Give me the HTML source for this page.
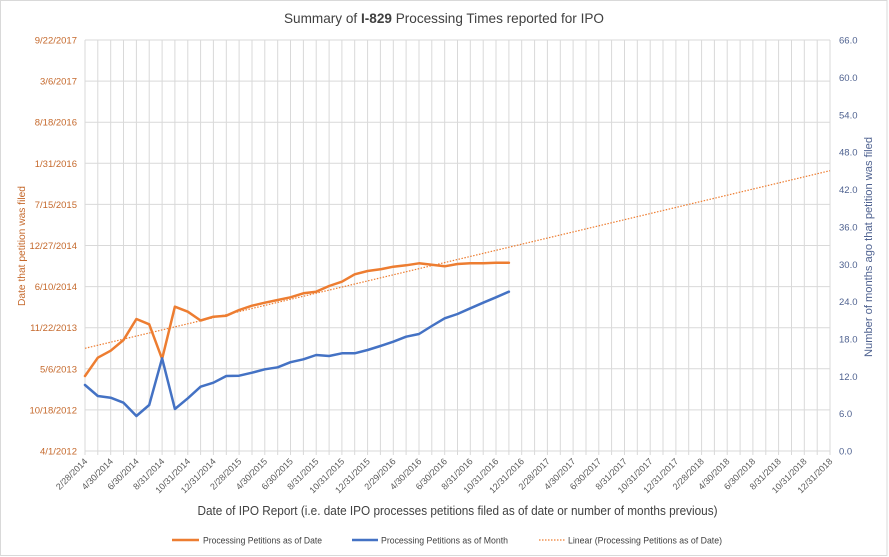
<!DOCTYPE html>
<html><head><meta charset="utf-8"><style>
html,body{margin:0;padding:0;background:#fff;}
svg{display:block;}
text{font-family:"Liberation Sans",sans-serif;}
</style></head><body>
<svg width="889" height="557" viewBox="0 0 889 557" xmlns="http://www.w3.org/2000/svg">
<rect x="0" y="0" width="889" height="557" fill="#fff"/>
<rect x="0.5" y="0.5" width="886.5" height="555" fill="none" stroke="#d9d9d9" stroke-width="1"/>
<text x="444" y="23" font-size="14" fill="#404040" text-anchor="middle" textLength="320" lengthAdjust="spacingAndGlyphs">Summary of <tspan font-weight="bold">I-829</tspan> Processing Times reported for IPO</text>
<g stroke="#d9d9d9" stroke-width="1">
<line x1="85" y1="40" x2="830" y2="40"/><line x1="85" y1="81.1" x2="830" y2="81.1"/><line x1="85" y1="122.2" x2="830" y2="122.2"/><line x1="85" y1="163.3" x2="830" y2="163.3"/><line x1="85" y1="204.4" x2="830" y2="204.4"/><line x1="85" y1="245.5" x2="830" y2="245.5"/><line x1="85" y1="286.6" x2="830" y2="286.6"/><line x1="85" y1="327.7" x2="830" y2="327.7"/><line x1="85" y1="368.8" x2="830" y2="368.8"/><line x1="85" y1="409.9" x2="830" y2="409.9"/><line x1="85" y1="451" x2="830" y2="451"/>
<line x1="85" y1="40" x2="85" y2="455"/><line x1="97.8" y1="40" x2="97.8" y2="455"/><line x1="110.7" y1="40" x2="110.7" y2="455"/><line x1="123.5" y1="40" x2="123.5" y2="455"/><line x1="136.4" y1="40" x2="136.4" y2="455"/><line x1="149.2" y1="40" x2="149.2" y2="455"/><line x1="162.1" y1="40" x2="162.1" y2="455"/><line x1="174.9" y1="40" x2="174.9" y2="455"/><line x1="187.8" y1="40" x2="187.8" y2="455"/><line x1="200.6" y1="40" x2="200.6" y2="455"/><line x1="213.4" y1="40" x2="213.4" y2="455"/><line x1="226.3" y1="40" x2="226.3" y2="455"/><line x1="239.1" y1="40" x2="239.1" y2="455"/><line x1="252" y1="40" x2="252" y2="455"/><line x1="264.8" y1="40" x2="264.8" y2="455"/><line x1="277.7" y1="40" x2="277.7" y2="455"/><line x1="290.5" y1="40" x2="290.5" y2="455"/><line x1="303.4" y1="40" x2="303.4" y2="455"/><line x1="316.2" y1="40" x2="316.2" y2="455"/><line x1="329.1" y1="40" x2="329.1" y2="455"/><line x1="341.9" y1="40" x2="341.9" y2="455"/><line x1="354.7" y1="40" x2="354.7" y2="455"/><line x1="367.6" y1="40" x2="367.6" y2="455"/><line x1="380.4" y1="40" x2="380.4" y2="455"/><line x1="393.3" y1="40" x2="393.3" y2="455"/><line x1="406.1" y1="40" x2="406.1" y2="455"/><line x1="419" y1="40" x2="419" y2="455"/><line x1="431.8" y1="40" x2="431.8" y2="455"/><line x1="444.7" y1="40" x2="444.7" y2="455"/><line x1="457.5" y1="40" x2="457.5" y2="455"/><line x1="470.3" y1="40" x2="470.3" y2="455"/><line x1="483.2" y1="40" x2="483.2" y2="455"/><line x1="496" y1="40" x2="496" y2="455"/><line x1="508.9" y1="40" x2="508.9" y2="455"/><line x1="521.7" y1="40" x2="521.7" y2="455"/><line x1="534.6" y1="40" x2="534.6" y2="455"/><line x1="547.4" y1="40" x2="547.4" y2="455"/><line x1="560.3" y1="40" x2="560.3" y2="455"/><line x1="573.1" y1="40" x2="573.1" y2="455"/><line x1="586" y1="40" x2="586" y2="455"/><line x1="598.8" y1="40" x2="598.8" y2="455"/><line x1="611.6" y1="40" x2="611.6" y2="455"/><line x1="624.5" y1="40" x2="624.5" y2="455"/><line x1="637.3" y1="40" x2="637.3" y2="455"/><line x1="650.2" y1="40" x2="650.2" y2="455"/><line x1="663" y1="40" x2="663" y2="455"/><line x1="675.9" y1="40" x2="675.9" y2="455"/><line x1="688.7" y1="40" x2="688.7" y2="455"/><line x1="701.6" y1="40" x2="701.6" y2="455"/><line x1="714.4" y1="40" x2="714.4" y2="455"/><line x1="727.2" y1="40" x2="727.2" y2="455"/><line x1="740.1" y1="40" x2="740.1" y2="455"/><line x1="752.9" y1="40" x2="752.9" y2="455"/><line x1="765.8" y1="40" x2="765.8" y2="455"/><line x1="778.6" y1="40" x2="778.6" y2="455"/><line x1="791.5" y1="40" x2="791.5" y2="455"/><line x1="804.3" y1="40" x2="804.3" y2="455"/><line x1="817.2" y1="40" x2="817.2" y2="455"/><line x1="830" y1="40" x2="830" y2="455"/>
</g>
<!-- left axis labels -->
<g font-size="9.5" fill="#c5692c" text-anchor="end">
<text x="77" y="43.5">9/22/2017</text><text x="77" y="84.6">3/6/2017</text><text x="77" y="125.7">8/18/2016</text><text x="77" y="166.8">1/31/2016</text><text x="77" y="207.9">7/15/2015</text><text x="77" y="249">12/27/2014</text><text x="77" y="290.1">6/10/2014</text><text x="77" y="331.2">11/22/2013</text><text x="77" y="372.3">5/6/2013</text><text x="77" y="413.4">10/18/2012</text><text x="77" y="454.5">4/1/2012</text>
</g>
<text transform="translate(25,246) rotate(-90)" font-size="10" fill="#c5692c" text-anchor="middle" textLength="120" lengthAdjust="spacingAndGlyphs">Date that petition was filed</text>
<!-- right axis labels -->
<g font-size="9.5" fill="#4f6290">
<text x="839" y="43.5">66.0</text><text x="839" y="80.9">60.0</text><text x="839" y="118.3">54.0</text><text x="839" y="155.6">48.0</text><text x="839" y="193">42.0</text><text x="839" y="230.4">36.0</text><text x="839" y="267.8">30.0</text><text x="839" y="305.1">24.0</text><text x="839" y="342.5">18.0</text><text x="839" y="379.9">12.0</text><text x="839" y="417.1">6.0</text><text x="839" y="454.5">0.0</text>
</g>
<text transform="translate(872,247) rotate(-90)" font-size="11" fill="#4f6290" text-anchor="middle" textLength="220" lengthAdjust="spacingAndGlyphs">Number of months ago that petition was filed</text>
<!-- x labels -->
<g font-size="9" fill="#595959" text-anchor="end">
<text transform="translate(88,462) rotate(-45)">2/28/2014</text>
<text transform="translate(113.7,462) rotate(-45)">4/30/2014</text>
<text transform="translate(139.4,462) rotate(-45)">6/30/2014</text>
<text transform="translate(165.1,462) rotate(-45)">8/31/2014</text>
<text transform="translate(190.8,462) rotate(-45)">10/31/2014</text>
<text transform="translate(216.4,462) rotate(-45)">12/31/2014</text>
<text transform="translate(242.1,462) rotate(-45)">2/28/2015</text>
<text transform="translate(267.8,462) rotate(-45)">4/30/2015</text>
<text transform="translate(293.5,462) rotate(-45)">6/30/2015</text>
<text transform="translate(319.2,462) rotate(-45)">8/31/2015</text>
<text transform="translate(344.9,462) rotate(-45)">10/31/2015</text>
<text transform="translate(370.6,462) rotate(-45)">12/31/2015</text>
<text transform="translate(396.3,462) rotate(-45)">2/29/2016</text>
<text transform="translate(422,462) rotate(-45)">4/30/2016</text>
<text transform="translate(447.7,462) rotate(-45)">6/30/2016</text>
<text transform="translate(473.3,462) rotate(-45)">8/31/2016</text>
<text transform="translate(499,462) rotate(-45)">10/31/2016</text>
<text transform="translate(524.7,462) rotate(-45)">12/31/2016</text>
<text transform="translate(550.4,462) rotate(-45)">2/28/2017</text>
<text transform="translate(576.1,462) rotate(-45)">4/30/2017</text>
<text transform="translate(601.8,462) rotate(-45)">6/30/2017</text>
<text transform="translate(627.5,462) rotate(-45)">8/31/2017</text>
<text transform="translate(653.2,462) rotate(-45)">10/31/2017</text>
<text transform="translate(678.9,462) rotate(-45)">12/31/2017</text>
<text transform="translate(704.6,462) rotate(-45)">2/28/2018</text>
<text transform="translate(730.2,462) rotate(-45)">4/30/2018</text>
<text transform="translate(755.9,462) rotate(-45)">6/30/2018</text>
<text transform="translate(781.6,462) rotate(-45)">8/31/2018</text>
<text transform="translate(807.3,462) rotate(-45)">10/31/2018</text>
<text transform="translate(833,462) rotate(-45)">12/31/2018</text>
</g>
<text x="457.5" y="515" font-size="13" fill="#404040" text-anchor="middle" textLength="520" lengthAdjust="spacingAndGlyphs">Date of IPO Report  (i.e. date IPO processes petitions filed as of date or number of months previous)</text>
<!-- trendline -->
<line x1="85" y1="348.3" x2="830" y2="170.7" stroke="#ED7D31" stroke-width="1.2" stroke-dasharray="1.5,1.5"/>
<!-- orange series -->
<polyline fill="none" stroke="#ED7D31" stroke-width="2.5" stroke-linejoin="round" stroke-linecap="round" points="85,376 97.8,357.7 110.7,350.7 123.5,340 136.4,319 149.2,324.3 162.1,359 174.9,306.7 187.8,311.7 200.6,320.5 213.4,316.7 226.3,315.7 239.1,310 252,305.7 264.8,302.7 277.7,300 290.5,297.3 303.4,293.3 316.2,291.7 329.1,286 341.9,281.7 354.7,274.3 367.6,271 380.4,269.3 393.3,266.7 406.1,265.3 419,263.3 431.8,264.7 444.7,266.3 457.5,264 470.3,263.3 483.2,263.3 496,262.7 508.9,262.7"/>
<!-- blue series -->
<polyline fill="none" stroke="#4472C4" stroke-width="2.5" stroke-linejoin="round" stroke-linecap="round" points="85,385 97.8,396 110.7,397.7 123.5,402.7 136.4,416 149.2,405 162.1,358.3 174.9,409 187.8,398.3 200.6,386.7 213.4,382.7 226.3,376 239.1,375.7 252,372.7 264.8,369.3 277.7,367.3 290.5,362.2 303.4,359.3 316.2,355 329.1,356 341.9,353.3 354.7,353.3 367.6,350 380.4,346 393.3,341.7 406.1,336.7 419,334 431.8,326 444.7,318.3 457.5,314 470.3,308.3 483.2,302.7 496,297.3 508.9,291.7"/>
<!-- legend -->
<line x1="172" y1="540" x2="199" y2="540" stroke="#ED7D31" stroke-width="2.5"/>
<text x="203" y="543.3" font-size="9" fill="#404040" textLength="119" lengthAdjust="spacingAndGlyphs">Processing Petitions as of Date</text>
<line x1="352" y1="540" x2="378" y2="540" stroke="#4472C4" stroke-width="2.5"/>
<text x="381" y="543.3" font-size="9" fill="#404040" textLength="127" lengthAdjust="spacingAndGlyphs">Processing Petitions as of Month</text>
<line x1="539" y1="540" x2="565" y2="540" stroke="#ED7D31" stroke-width="1.2" stroke-dasharray="1.5,1.5"/>
<text x="568" y="543.3" font-size="9" fill="#404040" textLength="154" lengthAdjust="spacingAndGlyphs">Linear (Processing Petitions as of Date)</text>
</svg>
</body></html>
